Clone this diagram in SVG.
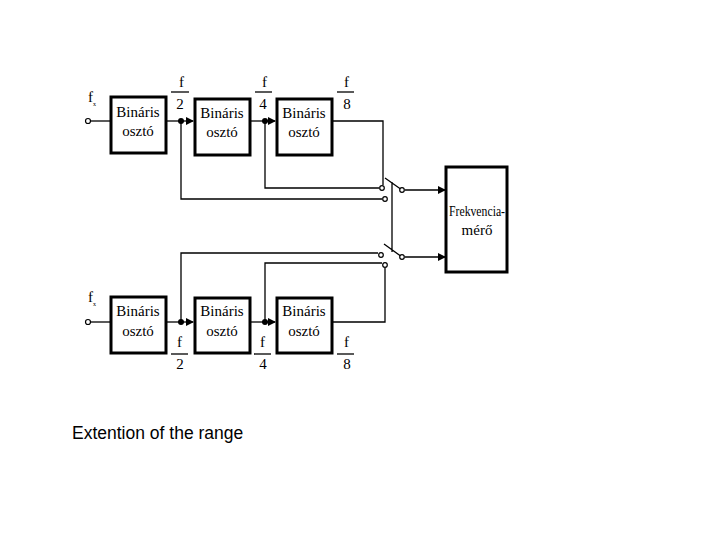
<svg xmlns="http://www.w3.org/2000/svg" width="720" height="540" viewBox="0 0 720 540">
<style>
.b{fill:#fff;stroke:#000;stroke-width:3}
.l{fill:none;stroke:#000;stroke-width:1.3}
.t{font-family:"Liberation Serif",serif;font-size:15px;fill:#000}
.s{font-family:"Liberation Serif",serif;font-size:6px;fill:#000}
.c{fill:#fff;stroke:#000;stroke-width:1.2}
</style>
<defs><marker id="a" markerWidth="8" markerHeight="8" refX="7" refY="4" orient="auto" markerUnits="userSpaceOnUse"><path d="M0,0L8,4L0,8z"/></marker></defs>
<rect width="720" height="540" fill="#fff"/>
<g id="connectors">
<path class="l" d="M91,121H110"/><path class="l" d="M166,121H193" marker-end="url(#a)"/>
<path class="l" d="M250,121H275" marker-end="url(#a)"/>
<path class="l" d="M332,121H383V185"/>
<path class="l" d="M265,121V188H379M181,121V199H382"/>
<path class="l" d="M91,322H110"/><path class="l" d="M166,322H193" marker-end="url(#a)"/>
<path class="l" d="M250,322H275" marker-end="url(#a)"/>
<path class="l" d="M332,322H385V268"/>
<path class="l" d="M265,322V263H382M181,322V253H378"/>
<path class="l" d="M402,190L385,178M402,257L384,244M392,182V252"/>
<path class="l" d="M405,190H445" marker-end="url(#a)"/>
<path class="l" d="M405,257H445" marker-end="url(#a)"/>
<circle cx="181" cy="121" r="3"/><circle cx="265" cy="121" r="3"/>
<circle cx="181" cy="322" r="3"/><circle cx="265" cy="322" r="3"/>
<circle class="c" cx="88" cy="121" r="2.5"/><circle class="c" cx="88" cy="322" r="2.5"/>
<circle class="c" cx="382" cy="188" r="2.3"/><circle class="c" cx="385" cy="199" r="2.3"/>
<circle class="c" cx="402" cy="190" r="2.3"/>
<circle class="c" cx="381" cy="255" r="2.3"/><circle class="c" cx="385" cy="265" r="2.3"/>
<circle class="c" cx="402" cy="257" r="2.3"/>
</g>
<g id="top1"><rect class="b" x="111" y="97" width="55" height="56"/><text class="t" x="138" y="117" text-anchor="middle">Bináris</text><text class="t" x="138" y="136" text-anchor="middle">osztó</text></g>
<g id="top2"><rect class="b" x="195" y="99" width="55" height="56"/><text class="t" x="222" y="118" text-anchor="middle">Bináris</text><text class="t" x="222" y="137" text-anchor="middle">osztó</text></g>
<g id="top3"><rect class="b" x="277" y="99" width="55" height="56"/><text class="t" x="304" y="118" text-anchor="middle">Bináris</text><text class="t" x="304" y="137" text-anchor="middle">osztó</text></g>
<g id="bot1"><rect class="b" x="111" y="297" width="55" height="56"/><text class="t" x="138" y="316" text-anchor="middle">Bináris</text><text class="t" x="138" y="336" text-anchor="middle">osztó</text></g>
<g id="bot2"><rect class="b" x="195" y="298" width="55" height="55"/><text class="t" x="222" y="316" text-anchor="middle">Bináris</text><text class="t" x="222" y="336" text-anchor="middle">osztó</text></g>
<g id="bot3"><rect class="b" x="277" y="298" width="55" height="55"/><text class="t" x="304" y="316" text-anchor="middle">Bináris</text><text class="t" x="304" y="336" text-anchor="middle">osztó</text></g>
<g id="meter"><rect class="b" x="446" y="167" width="61" height="105"/><text class="t" x="449" y="216" font-size="14" textLength="56" lengthAdjust="spacingAndGlyphs">Frekvencia-</text><text class="t" x="477" y="235" text-anchor="middle" font-size="14">mérő</text></g>
<g id="labels">
<text class="t" x="88" y="102">f</text><text class="s" x="93" y="106">x</text>
<text class="t" x="88" y="302">f</text><text class="s" x="93" y="306">x</text>
<text class="t" x="179" y="87">f</text><path class="l" d="M171,92H189"/><text class="t" x="180" y="109" text-anchor="middle">2</text>
<text class="t" x="262" y="87">f</text><path class="l" d="M255,92H272"/><text class="t" x="263" y="109" text-anchor="middle">4</text>
<text class="t" x="344" y="87">f</text><path class="l" d="M337,92H354"/><text class="t" x="347" y="109" text-anchor="middle">8</text>
<text class="t" x="177" y="347">f</text><path class="l" d="M171,354H188"/><text class="t" x="180" y="369" text-anchor="middle">2</text>
<text class="t" x="260" y="347">f</text><path class="l" d="M254,354H271"/><text class="t" x="263" y="369" text-anchor="middle">4</text>
<text class="t" x="344" y="347">f</text><path class="l" d="M337,354H354"/><text class="t" x="347" y="369" text-anchor="middle">8</text>
<text x="72" y="439" font-family="Liberation Sans,sans-serif" font-size="17.5">Extention of the range</text>
</g>
</svg>
